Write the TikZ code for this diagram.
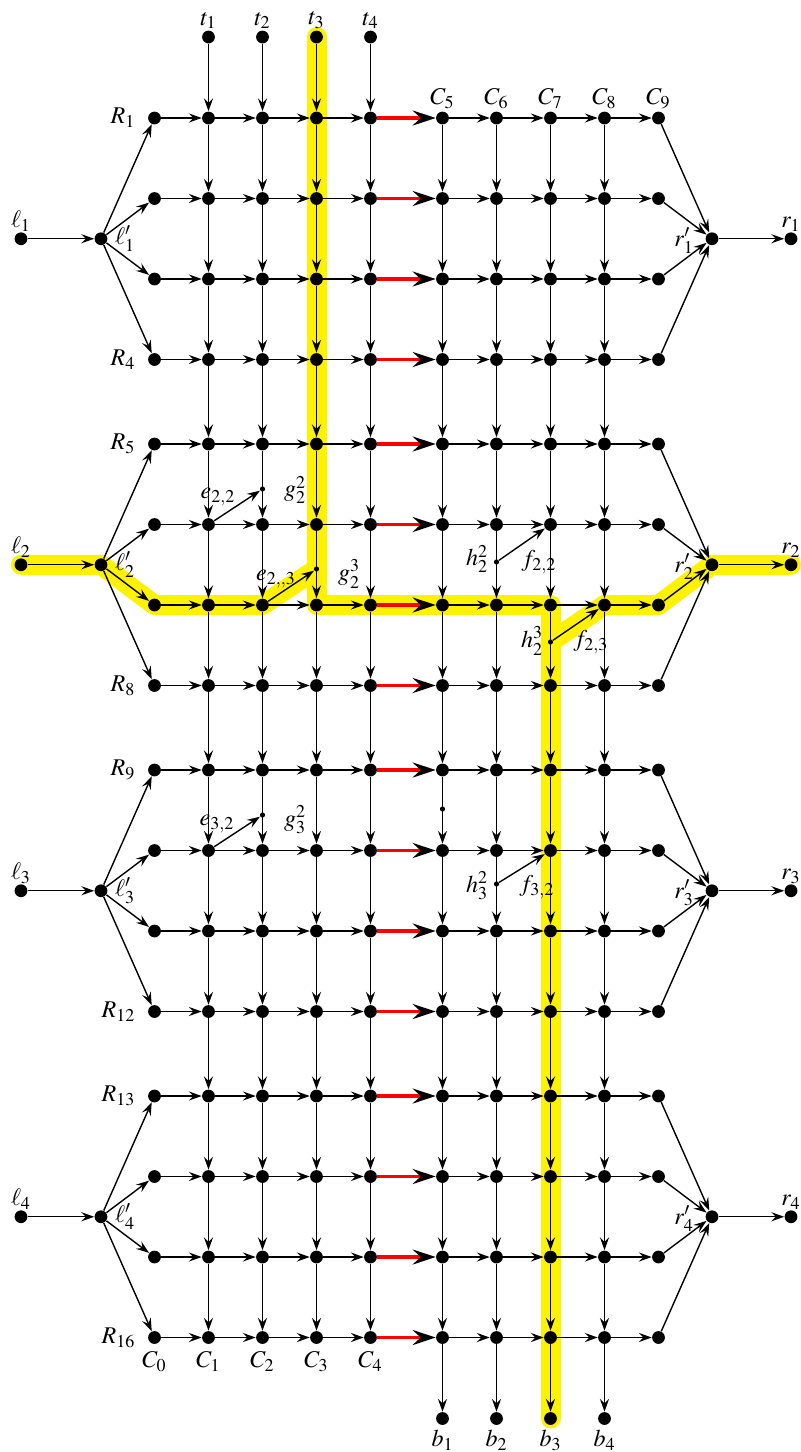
\documentclass[tikz,border=0pt]{standalone}
\usepackage{mathptmx}
\usetikzlibrary{arrows.meta,backgrounds}
\begin{document}
\begin{tikzpicture}[x=0.5pt,y=-0.5pt,
  dot/.style={circle,fill=black,inner sep=0pt,minimum size=6.4pt},
  sdot/.style={circle,fill=black,inner sep=0pt,minimum size=2.6pt},
  arc/.style={line width=0.7pt,-{Stealth[length=6.5pt,width=4.6pt,inset=2.4pt]}},
  redarc/.style={line width=1.8pt,red,-{Stealth[length=11.5pt,width=7.5pt,inset=4pt,black]}},
  lab/.style={inner sep=0pt,font=\fontsize{12}{14}\selectfont},
  hl/.style={line width=10pt,yellow,line cap=round,line join=round}
]
\path[use as bounding box] (0,0) rectangle (800,1452);

% grid nodes
\foreach \c in {0,...,9} {
  \foreach \r in {1,...,16} {
    \pgfmathsetmacro{\xx}{\c<5 ? 154.5+54*\c : 442.5+54*(\c-5)}
    \pgfmathsetmacro{\yy}{118+326*floor((\r-1)/4)+80.5*mod(\r-1,4)}
    \node[dot] (n\c-\r) at (\xx,\yy) {};
  }
}
% left / right nodes
\foreach \g in {1,...,4} {
  \pgfmathsetmacro{\yy}{118+326*(\g-1)+120.75}
  \node[dot] (l\g) at (21,\yy) {};
  \node[dot] (lp\g) at (101,\yy) {};
  \node[dot] (rp\g) at (712,\yy) {};
  \node[dot] (r\g) at (791,\yy) {};
}
% top / bottom nodes
\foreach \i in {1,...,4} {
  \pgfmathsetmacro{\xt}{154.5+54*\i}
  \pgfmathsetmacro{\xb}{442.5+54*(\i-1)}
  \node[dot] (t\i) at (\xt,37) {};
  \node[dot] (b\i) at (\xb,1418.5) {};
}
% small dots
\node[sdot] (e22) at (262.5,489) {};
\node[sdot] (e23) at (316.5,569) {};
\node[sdot] (h22) at (496.5,562) {};
\node[sdot] (h23) at (550.5,642) {};
\node[sdot] (e32) at (262.5,815) {};
\node[sdot] (h32) at (496.5,884) {};
\node[sdot] (x59) at (442.5,809) {};

% highlight
\begin{scope}[on background layer]
  \draw[hl] (t3.center) -- (n3-7.center) -- (n7-7.center) -- (b3.center);
  \draw[hl] (l2.center) -- (lp2.center) -- (n0-7.center) -- (n2-7.center) -- (e23.center);
  \draw[hl] (h23.center) -- (n8-7.center) -- (n9-7.center) -- (rp2.center) -- (r2.center);
\end{scope}

% fan in / fan out
\foreach \g in {1,...,4} {
  \draw[arc] (l\g) -- (lp\g);
  \draw[arc] (rp\g) -- (r\g);
  \foreach \i in {1,...,4} {
    \pgfmathtruncatemacro{\r}{4*(\g-1)+\i}
    \draw[arc] (lp\g) -- (n0-\r);
    \draw[arc] (n9-\r) -- (rp\g);
  }
}
% horizontal
\foreach \r in {1,...,16} {
  \foreach \c in {0,1,2,3,5,6,7,8} {
    \pgfmathtruncatemacro{\d}{\c+1}
    \draw[arc] (n\c-\r) -- (n\d-\r);
  }
  \draw[redarc] (n4-\r) -- (n5-\r);
}
% vertical
\foreach \c in {1,...,8} {
  \foreach \r in {1,...,15} {
    \pgfmathtruncatemacro{\s}{\r+1}
    \draw[arc] (n\c-\r) -- (n\c-\s);
  }
}
\foreach \i in {1,...,4} {
  \pgfmathtruncatemacro{\j}{\i+4}
  \draw[arc] (t\i) -- (n\i-1);
  \draw[arc] (n\j-16) -- (b\i);
}
% gadget arcs
\draw[arc] (n1-6) -- (e22);
\draw[arc] (n2-7) -- (e23);
\draw[arc] (h22) -- (n7-6);
\draw[arc] (h23) -- (n8-7);
\draw[arc] (n1-10) -- (e32);
\draw[arc] (h32) -- (n7-10);

% labels
\foreach \i in {1,...,4} {
  \node[lab,anchor=south] (tl\i) at ([yshift=0.5pt]t\i.north) {$t_{\i}$};
  \node[lab,anchor=north] (bl\i) at ([yshift=-2pt]b\i.south) {$b_{\i}$};
}
\foreach \r in {1,4,5,8,9,12,13,16} {
  \node[lab,anchor=east] (Rl\r) at ([xshift=-6pt]n0-\r.west) {$R_{\r}$};
}
\foreach \c in {0,...,4} {
  \node[lab,anchor=north] (Cl\c) at ([yshift=-3.5pt]n\c-16.south) {$C_{\c}$};
}
\foreach \c in {5,...,9} {
  \node[lab,anchor=south] (Cl\c) at ([yshift=1pt]n\c-1.north) {$C_{\c}$};
}
\foreach \g in {1,...,4} {
  \node[lab,anchor=south] (ll\g) at ([yshift=0pt]l\g.north) {$\ell_{\g}$};
  \node[lab,anchor=west] (lpl\g) at ([xshift=3.5pt]lp\g.east) {$\ell'_{\g}$};
  \node[lab,anchor=east] (rpl\g) at ([xshift=-5.5pt,yshift=-1pt]rp\g.west) {$r'_{\g}$};
  \node[lab,anchor=south] (rl\g) at ([yshift=0pt]r\g.north) {$r_{\g}$};
}
\node[lab] (le22) at (218,497) {$e_{2,2}$};
\node[lab] (le23) at (276,579) {$e_{2,,3}$};
\node[lab] (lg22) at (295,490) {$g_2^2$};
\node[lab] (lg23) at (349,574) {$g_2^3$};
\node[lab] (lh22) at (477,559) {$h_2^2$};
\node[lab] (lf22) at (539,562) {$f_{2,2}$};
\node[lab] (lh23) at (532,641) {$h_2^3$};
\node[lab] (lf23) at (591,642) {$f_{2,3}$};
\node[lab] (le32) at (217,824) {$e_{3,2}$};
\node[lab] (lg32) at (295,820) {$g_3^2$};
\node[lab] (lh32) at (477,886) {$h_3^2$};
\node[lab] (lf32) at (537,887) {$f_{3,2}$};
\end{tikzpicture}
\end{document}
